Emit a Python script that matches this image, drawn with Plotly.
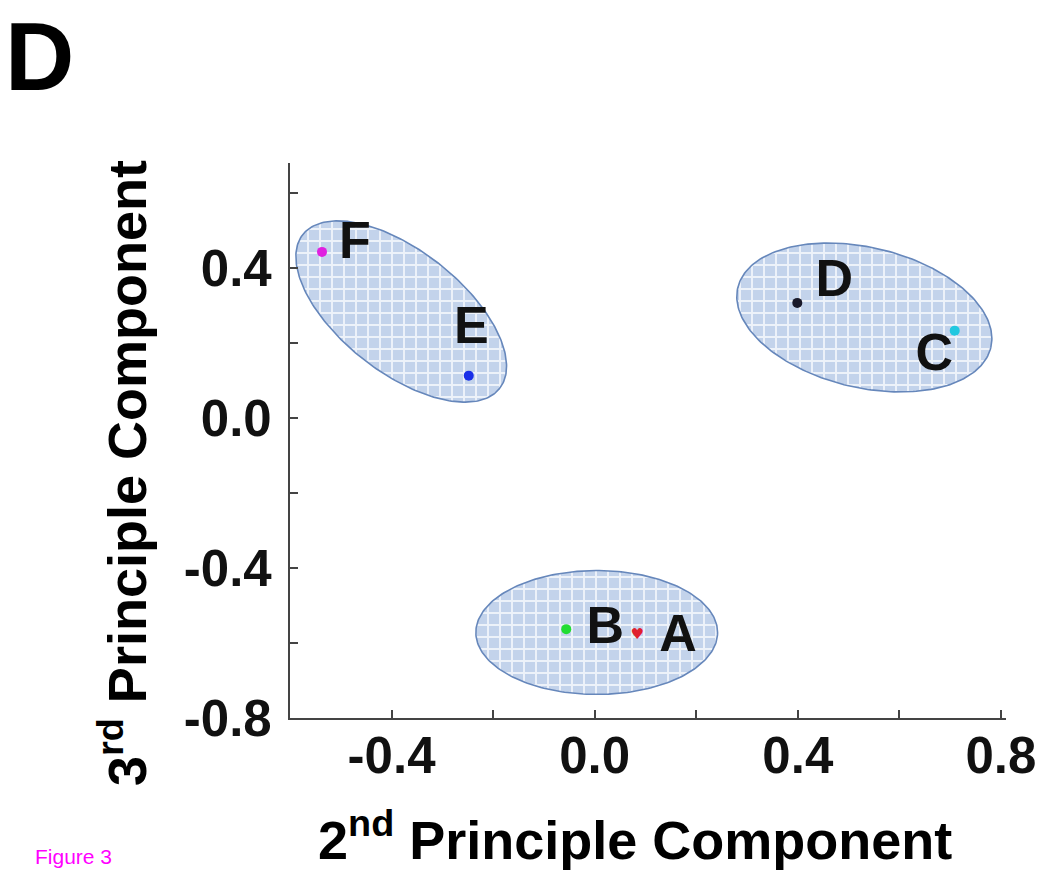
import numpy as np
import plotly.graph_objects as go

# ---------------- data ----------------
sample_names = ["A", "B", "C", "D", "E", "F"]
pc2 = [0.084, -0.056, 0.709, 0.399, -0.248, -0.537]
pc3 = [-0.579, -0.563, 0.233, 0.307, 0.113, 0.443]
point_colors = ["#e0202e", "#22dd33", "#22c8e0", "#1a1a2a", "#1a2fe8", "#e020e0"]
label_x = [0.164, 0.021, 0.669, 0.472, -0.243, -0.472]
label_y = [-0.587, -0.565, 0.163, 0.361, 0.235, 0.461]

# cluster ellipses: centre (data), semi-axes (in x-axis units), tilt (deg)
cluster_cx = [0.004, 0.531, -0.381]
cluster_cy = [-0.572, 0.268, 0.284]
cluster_a = [0.238, 0.256, 0.246]
cluster_b = [0.122, 0.138, 0.120]
cluster_angle = [0.0, -13.3, -38.0]

x_tickvals = [-0.4, 0.0, 0.4, 0.8]
x_ticktext = ["-0.4", "0.0", "0.4", "0.8"]
x_minorvals = [-0.2, 0.2, 0.6]
y_tickvals = [-0.8, -0.4, 0.0, 0.4]
y_ticktext = ["-0.8", "-0.4", "0.0", "0.4"]
y_minorvals = [-0.6, -0.2, 0.2, 0.6]

# ---------------- layout constants ----------------
W, H = 1048, 872
ML, MR, MT, MB = 290, 42, 163, 154
XR = [-0.6, 0.81]
YR = [-0.8, 0.68]
plotW = W - ML - MR
plotH = H - MT - MB
sx = plotW / (XR[1] - XR[0])   # px per x unit
sy = plotH / (YR[1] - YR[0])   # px per y unit

FONT = "Liberation Sans, Arial, Helvetica, sans-serif"

def px2paper(px, py):
    return (px - ML) / plotW, (H - MB - py) / plotH

fig = go.Figure()

# ellipses
t = np.linspace(0, 2 * np.pi, 240)
for cx, cy, a, b, ang in zip(cluster_cx, cluster_cy, cluster_a, cluster_b, cluster_angle):
    th = np.deg2rad(ang)
    ex = a * sx * np.cos(t)
    ey = b * sx * np.sin(t)
    X = ex * np.cos(th) - ey * np.sin(th)
    Y = ex * np.sin(th) + ey * np.cos(th)
    fig.add_trace(go.Scatter(
        x=cx + X / sx, y=cy + Y / sy, mode="lines", fill="toself",
        line=dict(color="#6687bb", width=1.6),
        fillcolor="#c7d6ec",
        fillpattern=dict(shape="+", bgcolor="#c3d3eb", fgcolor="#ffffff",
                         size=12, solidity=0.3, fgopacity=0.7),
        hoverinfo="skip", showlegend=False))

# points (circles)
fig.add_trace(go.Scatter(
    x=pc2[1:], y=pc3[1:], mode="markers",
    marker=dict(color=point_colors[1:], size=10, line=dict(width=0)),
    text=sample_names[1:], showlegend=False))
# point A (heart)
fig.add_trace(go.Scatter(
    x=pc2[:1], y=pc3[:1], mode="text", text=["\u2665"],
    textfont=dict(color=point_colors[0], size=15, family="DejaVu Sans"),
    textposition="middle center", showlegend=False))

# labels
fig.add_trace(go.Scatter(
    x=label_x, y=label_y, mode="text", text=sample_names,
    textposition="middle center",
    textfont=dict(family=FONT, size=52, color="#111111", weight="bold"),
    showlegend=False, hoverinfo="skip"))

fig.update_xaxes(
    range=XR, showgrid=False, zeroline=False, automargin=False,
    showline=True, linecolor="#444444", linewidth=2.2,
    ticks="inside", ticklen=8, tickwidth=1.6, tickcolor="#444444",
    tickvals=x_tickvals, ticktext=x_ticktext,
    minor=dict(tickvals=x_minorvals, ticks="inside", ticklen=8, tickwidth=1.6,
               tickcolor="#444444", showgrid=False),
    tickfont=dict(family=FONT, size=51, color="#111111", weight="bold"),
    ticklabelstandoff=-8)
fig.update_yaxes(
    range=YR, showgrid=False, zeroline=False, automargin=False,
    showline=True, linecolor="#444444", linewidth=2.2,
    ticks="inside", ticklen=8, tickwidth=1.6, tickcolor="#444444",
    tickvals=y_tickvals, ticktext=y_ticktext,
    minor=dict(tickvals=y_minorvals, ticks="inside", ticklen=8, tickwidth=1.6,
               tickcolor="#444444", showgrid=False),
    tickfont=dict(family=FONT, size=51, color="#111111", weight="bold"),
    ticklabelstandoff=6)

ann = []
x0, y0 = px2paper(39, 57)
ann.append(dict(text="D", x=x0, y=y0, xref="paper", yref="paper",
                xanchor="center", yanchor="middle", showarrow=False,
                font=dict(family=FONT, size=96, color="#000000", weight="bold")))
x0, y0 = px2paper(635, 836)
ann.append(dict(text="2<sup>nd</sup> Principle Component", x=x0, y=y0,
                xref="paper", yref="paper", xanchor="center", yanchor="middle",
                showarrow=False,
                font=dict(family=FONT, size=54, color="#000000", weight="bold")))
x0, y0 = px2paper(123, 473)
ann.append(dict(text="3<sup>rd</sup> Principle Component", x=x0, y=y0,
                xref="paper", yref="paper", xanchor="center", yanchor="middle",
                textangle=-90, showarrow=False,
                font=dict(family=FONT, size=54, color="#000000", weight="bold")))
x0, y0 = px2paper(33, 856)
ann.append(dict(text="Figure 3", x=x0, y=y0, xref="paper", yref="paper",
                xanchor="left", yanchor="middle", showarrow=False,
                font=dict(family=FONT, size=21, color="#ff00ff")))

fig.update_layout(
    width=W, height=H, autosize=False,
    margin=dict(l=ML, r=MR, t=MT, b=MB, autoexpand=False),
    paper_bgcolor="white", plot_bgcolor="white",
    annotations=ann, showlegend=False)

fig.write_html("out.html", config={"displayModeBar": False},
               post_script="document.body.style.margin='0';document.body.style.padding='0';")
